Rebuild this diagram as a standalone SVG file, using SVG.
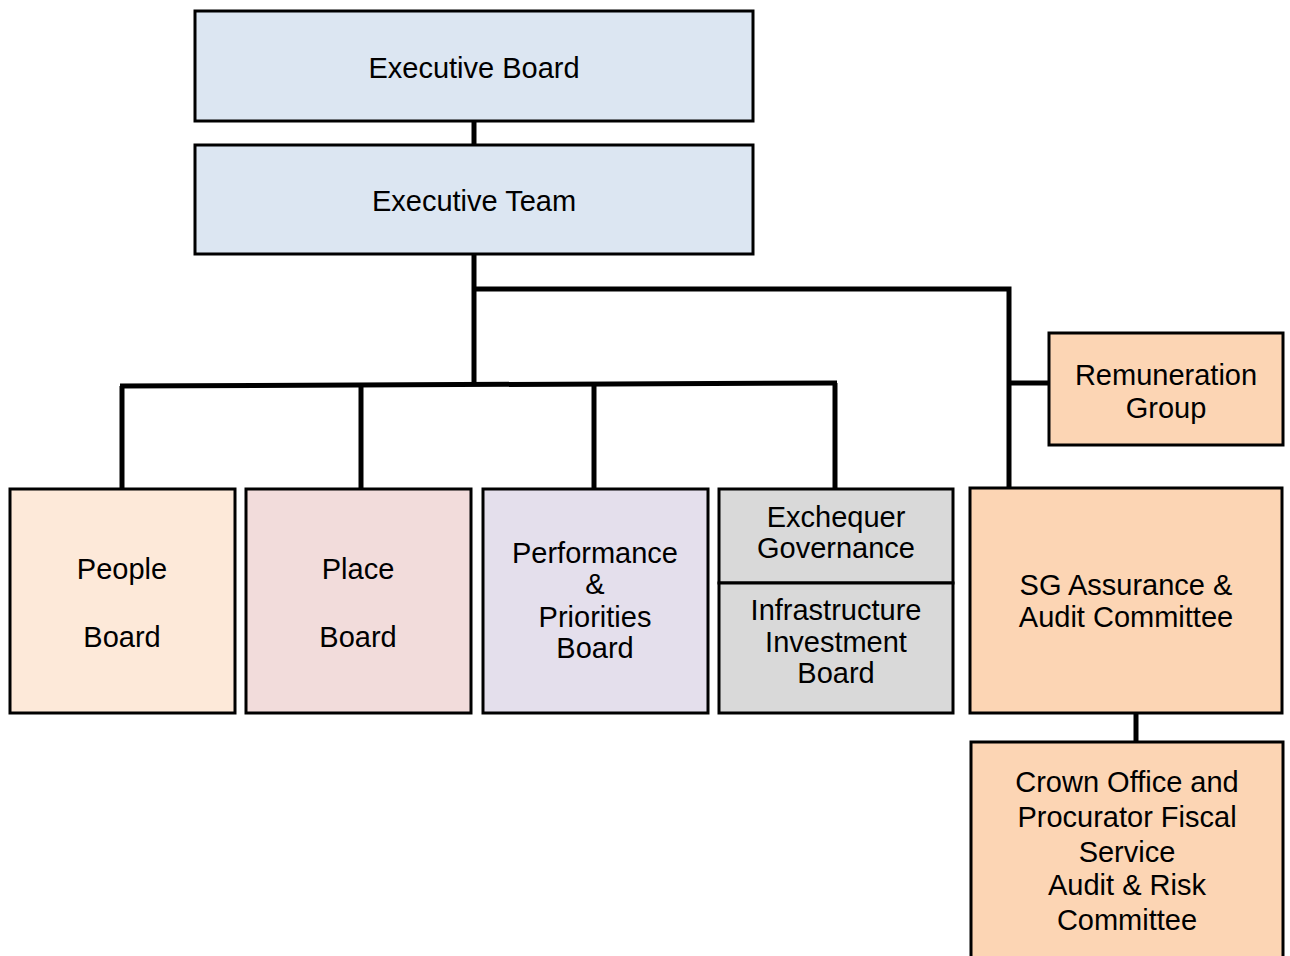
<svg xmlns="http://www.w3.org/2000/svg" width="1290" height="956" viewBox="0 0 1290 956">
<style>
.box{stroke:#000;stroke-width:3}
.blue{fill:#dce6f2}.people{fill:#fde9d9}.place{fill:#f2dcdb}.perf{fill:#e4dfec}.grey{fill:#d9d9d9}.orange{fill:#fcd5b4}
text{font-family:"Liberation Sans",Arial,sans-serif;font-size:29px;fill:#000;text-anchor:middle}
.conn{stroke:#000;stroke-width:5;fill:none}
</style>
<rect width="1290" height="956" fill="#fff"/>
<g id="connectors">
<line class="conn" x1="474" y1="121" x2="474" y2="145"/>
<line class="conn" x1="474" y1="254" x2="474" y2="385"/>
<polyline class="conn" points="474,289 1009,289 1009,488"/>
<line class="conn" x1="1009" y1="383" x2="1049" y2="383"/>
<line class="conn" x1="120" y1="386" x2="837" y2="383"/>
<line class="conn" x1="122" y1="386" x2="122" y2="489"/>
<line class="conn" x1="361" y1="385" x2="361" y2="489"/>
<line class="conn" x1="594" y1="384" x2="594" y2="489"/>
<line class="conn" x1="835" y1="383" x2="835" y2="489"/>
<line class="conn" x1="1136" y1="713" x2="1136" y2="742"/>
</g>
<g id="executive-board">
<rect class="box blue" x="195" y="11" width="558" height="110"/>
<text x="474" y="78">Executive Board</text>
</g>
<g id="executive-team">
<rect class="box blue" x="195" y="145" width="558" height="109"/>
<text x="474" y="211">Executive Team</text>
</g>
<g id="people-board">
<rect class="box people" x="10" y="489" width="225" height="224"/>
<text x="122" y="579">People</text>
<text x="122" y="647">Board</text>
</g>
<g id="place-board">
<rect class="box place" x="246" y="489" width="225" height="224"/>
<text x="358" y="579">Place</text>
<text x="358" y="647">Board</text>
</g>
<g id="performance-board">
<rect class="box perf" x="483" y="489" width="225" height="224"/>
<text x="595" y="563">Performance</text>
<text x="595" y="594">&amp;</text>
<text x="595" y="627">Priorities</text>
<text x="595" y="658">Board</text>
</g>
<g id="exchequer-governance">
<rect class="box grey" x="719" y="489" width="234" height="94"/>
<text x="836" y="527">Exchequer</text>
<text x="836" y="558">Governance</text>
</g>
<g id="infrastructure-investment-board">
<rect class="box grey" x="719" y="583" width="234" height="130"/>
<text x="836" y="620">Infrastructure</text>
<text x="836" y="652">Investment</text>
<text x="836" y="683">Board</text>
</g>
<g id="remuneration-group">
<rect class="box orange" x="1049" y="333" width="234" height="112"/>
<text x="1166" y="385">Remuneration</text>
<text x="1166" y="418">Group</text>
</g>
<g id="sg-assurance-audit">
<rect class="box orange" x="970" y="488" width="312" height="225"/>
<text x="1126" y="595">SG Assurance &amp;</text>
<text x="1126" y="627">Audit Committee</text>
</g>
<g id="copfs-audit-risk">
<rect class="box orange" x="971" y="742" width="312" height="220"/>
<text x="1127" y="792">Crown Office and</text>
<text x="1127" y="827">Procurator Fiscal</text>
<text x="1127" y="862">Service</text>
<text x="1127" y="895">Audit &amp; Risk</text>
<text x="1127" y="930">Committee</text>
</g>
</svg>
